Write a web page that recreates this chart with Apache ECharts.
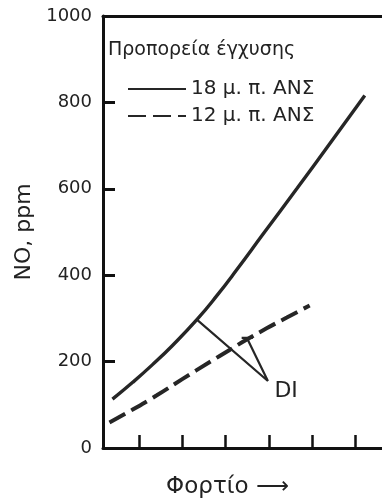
<!DOCTYPE html>
<html>
<head>
<meta charset="utf-8">
<script src="https://cdn.jsdelivr.net/npm/echarts@6/dist/echarts.min.js"></script>
<style>
  html, body { margin: 0; padding: 0; background: #fff; }
  #chart { width: 382px; height: 498px; }
</style>
</head>
<body>
<div id="chart"></div>
<script>
// φορτίο (αυθαίρετες μονάδες, οι γραμμές του άξονα στις ακέραιες τιμές)
const loads18 = [0.37, 0.84, 1.30, 1.77, 2.33, 2.79, 3.26, 3.86, 4.65, 5.42, 6.23];
const no18 = [113, 152, 193, 238, 297, 352, 413, 494, 600, 705, 816];

const loads12 = [0.30, 0.84, 1.40, 2.00, 2.63, 3.09, 3.49, 3.95, 4.42, 4.95];
const no12 = [59, 89, 122, 160, 199, 227, 251, 277, 302, 330];

// σημείωση DI
const diLoads = [2.33, 3.98, 3.49, 3.37, 3.63];
const diNO = [297, 155, 255, 255, 255];

const xTicks = [1, 2, 3, 4, 5, 6];
const yTicks = [0, 200, 400, 600, 800, 1000];

const names = ["18 μ. π. ΑΝΣ", "12 μ. π. ΑΝΣ"];
const ink = "#222";
const font = "DejaVu Sans";

const pairs = (xs, ys) => xs.map((x, i) => [x, ys[i]]);

const chart = echarts.init(document.getElementById("chart"));

chart.setOption({
  backgroundColor: "#fff",
  animation: false,
  title: {
    text: "Προπορεία έγχυσης",
    left: 108,
    top: 41,
    padding: 0,
    textStyle: { fontFamily: font, fontSize: 19, fontWeight: "normal", color: ink },
  },
  legend: {
    data: names,
    orient: "vertical",
    left: 127,
    top: 79,
    padding: 0,
    itemWidth: 58,
    itemHeight: 14,
    itemGap: 7,
    itemStyle: { opacity: 0 },
    textStyle: { fontFamily: font, fontSize: 20, lineHeight: 19, color: ink },
  },
  grid: { left: 103, right: 0, top: 16, bottom: 50, outerBoundsMode: "none" },
  xAxis: [
    {
      type: "value",
      min: 0.15,
      max: 6.63,
      name: "Φορτίο ⟶",
      nameLocation: "middle",
      nameGap: 28,
      nameTextStyle: { fontFamily: font, fontSize: 23, color: ink, padding: [0, 30, 0, 0] },
      axisLine: { show: true, lineStyle: { color: "#111", width: 3 } },
      axisTick: {
        show: true,
        inside: true,
        length: 13,
        customValues: xTicks,
        lineStyle: { color: "#111", width: 2.5 },
      },
      axisLabel: { show: false },
      splitLine: { show: false },
    },
    {
      type: "value",
      position: "top",
      min: 0.15,
      max: 6.63,
      axisLine: { show: true, lineStyle: { color: "#111", width: 3 } },
      axisTick: { show: false },
      axisLabel: { show: false },
      splitLine: { show: false },
    },
  ],
  yAxis: {
    type: "value",
    min: yTicks[0],
    max: yTicks[yTicks.length - 1],
    interval: 200,
    name: "NO, ppm",
    nameLocation: "middle",
    nameGap: 66,
    nameTextStyle: { fontFamily: font, fontSize: 22, color: ink },
    axisLine: { show: true, lineStyle: { color: "#111", width: 3 } },
    axisTick: { show: true, inside: true, length: 12, lineStyle: { color: "#111", width: 3 } },
    axisLabel: {
      margin: 11,
      fontFamily: font,
      fontSize: 18,
      color: ink,
      formatter: (v) => String(v),
    },
    splitLine: { show: false },
  },
  series: [
    {
      name: names[0],
      type: "line",
      smooth: 0.5,
      symbol: "none",
      lineStyle: { color: "#262626", width: 3.4 },
      itemStyle: { color: "#262626" },
      data: pairs(loads18, no18),
    },
    {
      name: names[1],
      type: "line",
      smooth: 0.5,
      symbol: "none",
      lineStyle: { color: "#262626", width: 4, type: [18, 7] },
      itemStyle: { color: "#262626" },
      data: pairs(loads12, no12),
    },
    {
      name: "DI",
      type: "line",
      symbol: "none",
      lineStyle: { color: "#262626", width: 2.2 },
      data: pairs(diLoads, diNO),
      markPoint: {
        symbol: "circle",
        symbolSize: 1,
        itemStyle: { color: "rgba(0,0,0,0)" },
        label: {
          show: true,
          formatter: "DI",
          position: "right",
          distance: 6,
          offset: [0, 10],
          fontFamily: font,
          fontSize: 22,
          color: ink,
        },
        data: [{ coord: [diLoads[1], diNO[1]] }],
      },
    },
  ],
});
</script>
</body>
</html>
